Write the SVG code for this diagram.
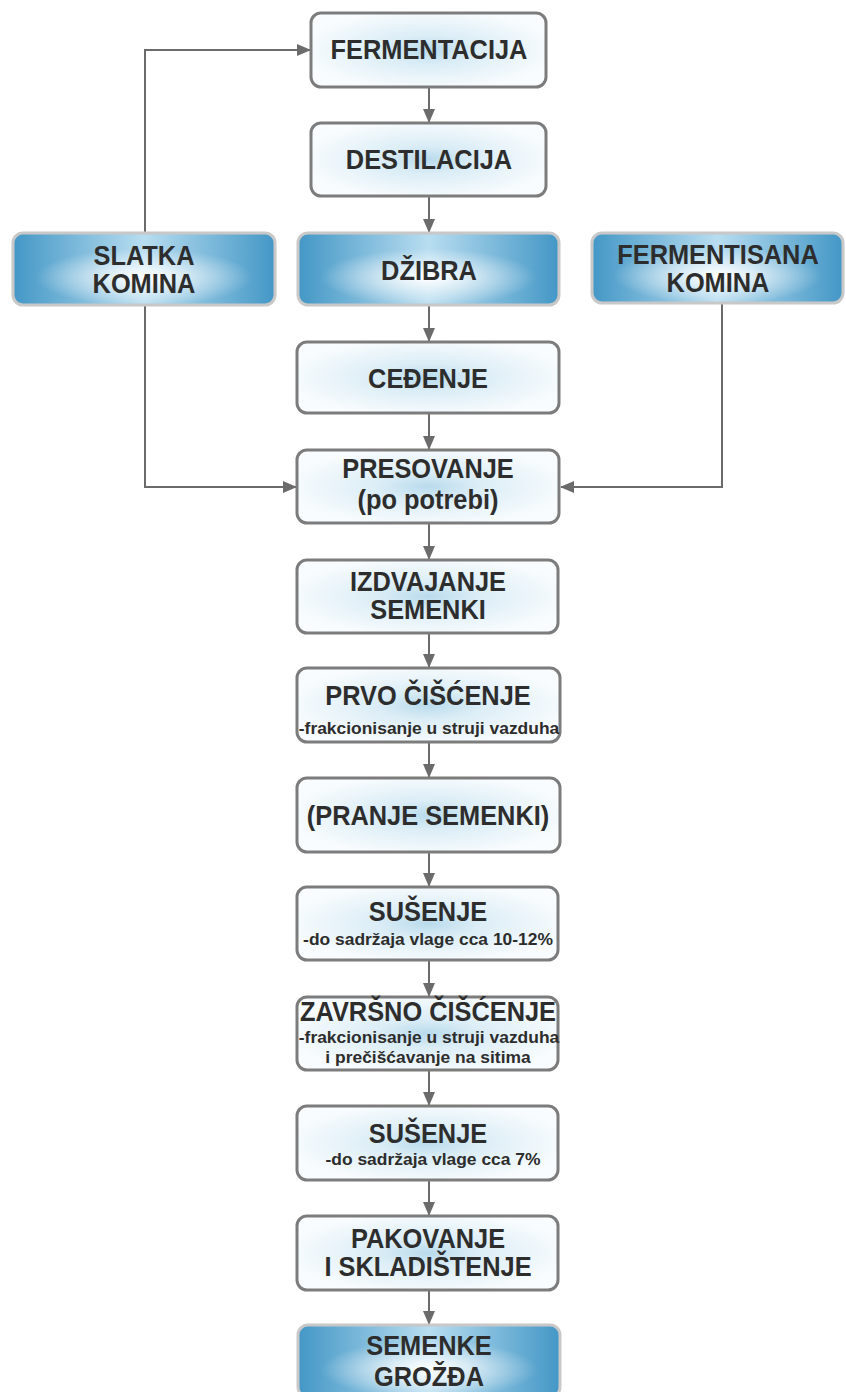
<svg xmlns="http://www.w3.org/2000/svg" width="846" height="1392" viewBox="0 0 846 1392">
<defs>
<radialGradient id="gw" cx="50%" cy="50%" r="55%">
<stop offset="0" stop-color="#b9dbec"/>
<stop offset="0.35" stop-color="#dbedf6"/>
<stop offset="1" stop-color="#f9fcfe"/>
</radialGradient>
<linearGradient id="gb" x1="0" y1="0" x2="1" y2="0">
<stop offset="0" stop-color="#4397c6"/>
<stop offset="0.5" stop-color="#b8ddf0"/>
<stop offset="1" stop-color="#4397c6"/>
</linearGradient>
<radialGradient id="gg" cx="50%" cy="62%" r="42%">
<stop offset="0" stop-color="#ffffff" stop-opacity="1"/>
<stop offset="0.45" stop-color="#ffffff" stop-opacity="0.55"/>
<stop offset="1" stop-color="#ffffff" stop-opacity="0"/>
</radialGradient>
<marker id="ah" markerWidth="14" markerHeight="12" refX="13" refY="6" orient="auto" markerUnits="userSpaceOnUse">
<path d="M0,0 L14,6 L0,12 Z" fill="#6b6b6b"/>
</marker>
</defs>
<style>
.w{fill:url(#gw);stroke:#7c7c7c;stroke-width:3}
.b{fill:url(#gb);stroke:#c8c8c8;stroke-width:3}
.g{fill:url(#gg);stroke:none}
.t{font-family:"Liberation Sans",Arial,sans-serif;font-weight:bold;font-size:27px;fill:#2d2d2d;text-anchor:middle}
.s{font-family:"Liberation Sans",Arial,sans-serif;font-weight:bold;font-size:16px;fill:#2d2d2d;text-anchor:middle}
.c line,.c path{stroke:#6b6b6b;stroke-width:2;fill:none}
</style>
<g class="c" id="connectors">
<line x1="429" y1="88" x2="429" y2="122" marker-end="url(#ah)"/>
<line x1="429" y1="197" x2="429" y2="232" marker-end="url(#ah)"/>
<line x1="429" y1="306" x2="429" y2="341" marker-end="url(#ah)"/>
<line x1="429" y1="413" x2="429" y2="449" marker-end="url(#ah)"/>
<line x1="429" y1="524" x2="429" y2="559" marker-end="url(#ah)"/>
<line x1="429" y1="634" x2="429" y2="667" marker-end="url(#ah)"/>
<line x1="429" y1="743" x2="429" y2="777" marker-end="url(#ah)"/>
<line x1="429" y1="853" x2="429" y2="886" marker-end="url(#ah)"/>
<line x1="429" y1="961" x2="429" y2="996" marker-end="url(#ah)"/>
<line x1="429" y1="1071" x2="429" y2="1105" marker-end="url(#ah)"/>
<line x1="429" y1="1181" x2="429" y2="1215" marker-end="url(#ah)"/>
<line x1="429" y1="1291" x2="429" y2="1324" marker-end="url(#ah)"/>
<path d="M145,232 V50 H310" marker-end="url(#ah)"/>
<path d="M145,306 V487 H296" marker-end="url(#ah)"/>
<path d="M722,304 V487 H561" marker-end="url(#ah)"/>
</g>
<g id="fermentacija"><rect class="w" x="311" y="13" width="235" height="74" rx="10"/><text class="t" transform="translate(429 59) scale(0.94 1)">FERMENTACIJA</text></g>
<g id="destilacija"><rect class="w" x="311" y="123" width="235" height="73" rx="10"/><text class="t" transform="translate(429 169) scale(0.94 1)">DESTILACIJA</text></g>
<g id="slatka"><rect class="b" x="13" y="233" width="262" height="72" rx="10"/><rect class="g" x="14.5" y="234.5" width="259" height="69" rx="9"/><text class="t" transform="translate(144 265) scale(0.94 1)">SLATKA</text><text class="t" transform="translate(144 293) scale(0.94 1)">KOMINA</text></g>
<g id="dzibra"><rect class="b" x="298" y="233" width="261" height="72" rx="10"/><rect class="g" x="299.5" y="234.5" width="258" height="69" rx="9"/><text class="t" transform="translate(429 280) scale(0.94 1)">DŽIBRA</text></g>
<g id="fermentisana"><rect class="b" x="592" y="233" width="251" height="70" rx="10"/><rect class="g" x="593.5" y="234.5" width="248" height="67" rx="9"/><text class="t" transform="translate(718 264) scale(0.94 1)">FERMENTISANA</text><text class="t" transform="translate(718 292) scale(0.94 1)">KOMINA</text></g>
<g id="cedjenje"><rect class="w" x="297" y="342" width="262" height="71" rx="10"/><text class="t" transform="translate(428 388) scale(0.94 1)">CEĐENJE</text></g>
<g id="presovanje"><rect class="w" x="297" y="450" width="262" height="73" rx="10"/><text class="t" transform="translate(428 478) scale(0.94 1)">PRESOVANJE</text><text class="t" transform="translate(428 509) scale(0.94 1)">(po potrebi)</text></g>
<g id="izdvajanje"><rect class="w" x="297" y="560" width="261" height="73" rx="10"/><text class="t" transform="translate(428 591) scale(0.94 1)">IZDVAJANJE</text><text class="t" transform="translate(428 619) scale(0.94 1)">SEMENKI</text></g>
<g id="prvo"><rect class="w" x="297" y="668" width="263" height="74" rx="10"/><text class="t" transform="translate(428 705) scale(0.94 1)">PRVO ČIŠĆENJE</text><text class="s" transform="translate(429 734) scale(1.09 1)">-frakcionisanje u struji vazduha</text></g>
<g id="pranje"><rect class="w" x="297" y="778" width="263" height="74" rx="10"/><text class="t" transform="translate(428 825) scale(0.94 1)">(PRANJE SEMENKI)</text></g>
<g id="susenje1"><rect class="w" x="297" y="887" width="261" height="73" rx="10"/><text class="t" transform="translate(428 921) scale(0.94 1)">SUŠENJE</text><text class="s" transform="translate(428 945) scale(1.09 1)">-do sadržaja vlage cca 10-12%</text></g>
<g id="zavrsno"><rect class="w" x="297" y="997" width="261" height="73" rx="10"/><text class="t" transform="translate(428 1021) scale(0.94 1)">ZAVRŠNO ČIŠĆENJE</text><text class="s" transform="translate(429 1043) scale(1.09 1)">-frakcionisanje u struji vazduha</text><text class="s" transform="translate(428 1063) scale(1.09 1)">i prečišćavanje na sitima</text></g>
<g id="susenje2"><rect class="w" x="297" y="1106" width="261" height="74" rx="10"/><text class="t" transform="translate(428 1143) scale(0.94 1)">SUŠENJE</text><text class="s" transform="translate(433 1165) scale(1.09 1)">-do sadržaja vlage cca 7%</text></g>
<g id="pakovanje"><rect class="w" x="297" y="1216" width="261" height="74" rx="10"/><text class="t" transform="translate(428 1248) scale(0.94 1)">PAKOVANJE</text><text class="t" transform="translate(428 1276) scale(0.94 1)">I SKLADIŠTENJE</text></g>
<g id="semenke"><rect class="b" x="298" y="1325" width="262" height="72" rx="10"/><rect class="g" x="299.5" y="1326.5" width="259" height="69" rx="9"/><text class="t" transform="translate(429 1355) scale(0.94 1)">SEMENKE</text><text class="t" transform="translate(429 1386) scale(0.94 1)">GROŽĐA</text></g>
</svg>
